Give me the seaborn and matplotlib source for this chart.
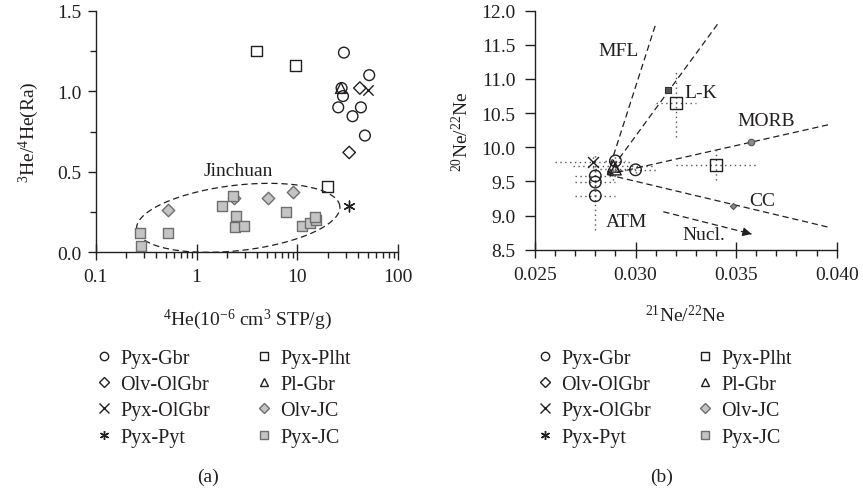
import numpy as np
import matplotlib
matplotlib.use("Agg")
import matplotlib.pyplot as plt
import seaborn as sns
from matplotlib.lines import Line2D
from matplotlib.ticker import MultipleLocator, FixedLocator, FixedFormatter, FormatStrFormatter, NullFormatter

# ---------------- data: panel (a) ----------------
A_PYX_GBR_X = [28.9, 51.5, 27.4, 28.3, 25.4, 42.6, 35.2, 46.7]
A_PYX_GBR_Y = [1.24, 1.10, 1.02, 0.97, 0.90, 0.90, 0.845, 0.725]
A_PYX_PLHT_X = [3.9, 9.5, 20.0]
A_PYX_PLHT_Y = [1.25, 1.16, 0.41]
A_OLV_OLGBR_X = [41.6, 32.6]
A_OLV_OLGBR_Y = [1.02, 0.62]
A_PL_GBR_X = [27.0]
A_PL_GBR_Y = [1.02]
A_PYX_OLGBR_X = [50.4]
A_PYX_OLGBR_Y = [1.01]
A_PYX_PYT_X = [32.6]
A_PYX_PYT_Y = [0.29]
A_OLV_JC_X = [0.52, 2.37, 5.07, 9.08]
A_OLV_JC_Y = [0.265, 0.335, 0.337, 0.376]
A_PYX_JC_X = [0.275, 0.281, 0.518, 1.77, 2.28, 2.46, 2.42, 2.97, 7.64, 11.0, 13.3, 15.2, 14.9]
A_PYX_JC_Y = [0.118, 0.041, 0.118, 0.289, 0.348, 0.224, 0.159, 0.161, 0.252, 0.165, 0.182, 0.200, 0.217]

A_XTICKS = [0.1, 1, 10, 100]
A_XTICKLABELS = ["0.1", "1", "10", "100"]

# Jinchuan ellipse (center in data units, semi-axes in decades / y-units, tilt)
ELL_CENTER_X = 2.59
ELL_CENTER_Y = 0.214
ELL_SEMI_DEC = 1.014
ELL_SEMI_Y = 0.203
ELL_TILT_DEG = 6.5
JINCHUAN_POS = (2.6, 0.51)

# ---------------- data: panel (b) ----------------
B_PYX_GBR_X = [0.0290, 0.0300, 0.0280, 0.0280, 0.0280]
B_PYX_GBR_Y = [9.80, 9.67, 9.58, 9.49, 9.29]
B_PYX_GBR_XERR = [0.0005, 0.0010, 0.0010, 0.0010, 0.0010]
B_PYX_GBR_YERR = [0.10, 0.05, 0.30, 0.20, 0.50]
B_PYX_PLHT_X = [0.0320, 0.0340]
B_PYX_PLHT_Y = [10.65, 9.74]
B_PYX_PLHT_XERR = [0.0010, 0.0020]
B_PYX_PLHT_YERR = [0.50, 0.22]
B_PL_GBR_X = [0.0289, 0.0290]
B_PL_GBR_Y = [9.72, 9.68]
B_PL_GBR_XERR = [0.0020, 0.0010]
B_PL_GBR_YERR = [0.20, 0.10]
B_PYX_OLGBR_X = [0.0279]
B_PYX_OLGBR_Y = [9.79]
B_PYX_OLGBR_XERR = [0.0019]
B_PYX_OLGBR_YERR = [0.10]

REF_NAMES = ["L-K", "MORB", "CC"]
REF_X = [0.03163, 0.03574, 0.03486]
REF_Y = [10.84, 10.07, 9.144]

LINE_ORIGIN = (0.0286, 9.60)
LINE_NAMES = ["MFL", "L-K", "MORB", "CC"]
LINE_END_X = [0.03102, 0.03417, 0.03959, 0.03959]
LINE_END_Y = [11.82, 11.84, 10.33, 8.83]

NUCL_START = (0.03138, 9.056)
NUCL_END = (0.03577, 8.73)

B_LABELS = ["MFL", "L-K", "MORB", "CC", "ATM", "Nucl."]
B_LABEL_X = [0.02918, 0.03325, 0.03652, 0.03630, 0.02956, 0.03339]
B_LABEL_Y = [11.41, 10.80, 10.39, 9.22, 8.91, 8.73]

LEGEND_ORDER = ["Pyx-Gbr", "Olv-OlGbr", "Pyx-OlGbr", "Pyx-Pyt",
                "Pyx-Plht", "Pl-Gbr", "Olv-JC", "Pyx-JC"]

# ---------------- styling ----------------
sns.set_theme(style="ticks")
plt.rcParams["font.family"] = ["Liberation Serif", "DejaVu Serif"]
plt.rcParams["mathtext.fontset"] = "custom"
plt.rcParams["mathtext.rm"] = "Liberation Serif"
plt.rcParams["mathtext.it"] = "Liberation Serif:italic"
plt.rcParams["mathtext.bf"] = "Liberation Serif:bold"

INK = "#231f20"
GRAY_FACE = "#c4c4c4"
GRAY_EDGE = "#6e6e6e"
FS = 14

STYLE = {
    "Pyx-Gbr":   dict(marker="o", s=60, fc="none", ec=INK),
    "Pyx-Plht":  dict(marker="s", s=62, fc="none", ec=INK),
    "Olv-OlGbr": dict(marker="D", s=40, fc="none", ec=INK),
    "Pl-Gbr":    dict(marker="^", s=60, fc="none", ec=INK),
    "Pyx-OlGbr": dict(marker="x", s=55, fc=INK, ec=INK),
    "Pyx-Pyt":   dict(marker=(6, 2, 0), s=60, fc=INK, ec=INK),
    "Olv-JC":    dict(marker="D", s=40, fc=GRAY_FACE, ec=GRAY_EDGE),
    "Pyx-JC":    dict(marker="s", s=62, fc=GRAY_FACE, ec=GRAY_EDGE),
}


def scat(ax, x, y, name, scale=1.0):
    st = STYLE[name]
    kw = dict(x=x, y=y, ax=ax, marker=st["marker"], s=st["s"] * scale,
              linewidth=1.0, legend=False, zorder=4)
    if st["marker"] in ("x", (6, 2, 0)):
        kw["color"] = st["ec"]
    else:
        kw["facecolor"] = st["fc"]
        kw["edgecolor"] = st["ec"]
    sns.scatterplot(**kw)


fig = plt.figure(figsize=(8.63, 4.89), dpi=100)
axA = fig.add_axes([0.1109, 0.482, 0.3506, 0.494])
axB = fig.add_axes([0.6199, 0.4873, 0.3496, 0.4888])

# ---------------- panel (a) ----------------
t = np.linspace(0, 2 * np.pi, 400)
th = np.deg2rad(ELL_TILT_DEG)
px_per_dec, px_per_y = 100.9, 161.0
a_px, b_px = ELL_SEMI_DEC * px_per_dec, ELL_SEMI_Y * px_per_y
u = a_px * np.cos(t) * np.cos(th) - b_px * np.sin(t) * np.sin(th)
v = a_px * np.cos(t) * np.sin(th) + b_px * np.sin(t) * np.cos(th)
ell_x = 10 ** (np.log10(ELL_CENTER_X) + u / px_per_dec)
ell_y = ELL_CENTER_Y + v / px_per_y
axA.plot(ell_x, ell_y, color=INK, lw=0.9, ls=(0, (5, 3)), zorder=2)
axA.text(*JINCHUAN_POS, "Jinchuan", ha="center", va="center", fontsize=FS, color=INK)

scat(axA, A_PYX_GBR_X, A_PYX_GBR_Y, "Pyx-Gbr")
scat(axA, A_PYX_PLHT_X, A_PYX_PLHT_Y, "Pyx-Plht")
scat(axA, A_OLV_OLGBR_X, A_OLV_OLGBR_Y, "Olv-OlGbr")
scat(axA, A_PL_GBR_X, A_PL_GBR_Y, "Pl-Gbr")
scat(axA, A_PYX_OLGBR_X, A_PYX_OLGBR_Y, "Pyx-OlGbr")
scat(axA, A_PYX_PYT_X, A_PYX_PYT_Y, "Pyx-Pyt")
scat(axA, A_OLV_JC_X, A_OLV_JC_Y, "Olv-JC")
scat(axA, A_PYX_JC_X, A_PYX_JC_Y, "Pyx-JC")

axA.set_xscale("log")
axA.set_xlim(0.1, 100)
axA.set_ylim(0, 1.5)
axA.xaxis.set_major_locator(FixedLocator(A_XTICKS))
axA.xaxis.set_major_formatter(FixedFormatter(A_XTICKLABELS))
minors = [m * 10.0 ** e for e in (-1, 0, 1) for m in range(2, 10)]
axA.xaxis.set_minor_locator(FixedLocator(minors))
axA.xaxis.set_minor_formatter(NullFormatter())
axA.yaxis.set_major_locator(MultipleLocator(0.5))
axA.yaxis.set_minor_locator(MultipleLocator(0.25))
axA.yaxis.set_major_formatter(FormatStrFormatter("%.1f"))
axA.set_xlabel(r"$^{4}$He(10$^{-6}$ cm$^{3}$ STP/g)", fontsize=FS, color=INK)
axA.set_ylabel(r"$^{3}$He/$^{4}$He(Ra)", fontsize=FS, color=INK)

# ---------------- panel (b) ----------------
def ebar(ax, x, y, xe, ye):
    eb = ax.errorbar(x, y, xerr=xe, yerr=ye, fmt="none", ecolor="#555555",
                     elinewidth=1.0, capsize=0, zorder=1)
    for c in eb[2]:
        c.set_linestyle((0, (1, 2.5)))

ebar(axB, B_PYX_GBR_X, B_PYX_GBR_Y, B_PYX_GBR_XERR, B_PYX_GBR_YERR)
ebar(axB, B_PYX_PLHT_X, B_PYX_PLHT_Y, B_PYX_PLHT_XERR, B_PYX_PLHT_YERR)
ebar(axB, B_PL_GBR_X, B_PL_GBR_Y, B_PL_GBR_XERR, B_PL_GBR_YERR)
ebar(axB, B_PYX_OLGBR_X, B_PYX_OLGBR_Y, B_PYX_OLGBR_XERR, B_PYX_OLGBR_YERR)

for ex, ey in zip(LINE_END_X, LINE_END_Y):
    axB.plot([LINE_ORIGIN[0], ex], [LINE_ORIGIN[1], ey], color=INK, lw=0.9,
             ls=(0, (5, 3)), zorder=2)

axB.plot([NUCL_START[0], NUCL_END[0]], [NUCL_START[1], NUCL_END[1]], color=INK,
         lw=0.9, ls=(0, (5, 3)), zorder=2)
axB.annotate("", xy=NUCL_END,
             xytext=(NUCL_END[0] - (NUCL_END[0] - NUCL_START[0]) * 0.05,
                     NUCL_END[1] - (NUCL_END[1] - NUCL_START[1]) * 0.05),
             arrowprops=dict(arrowstyle="-|>", color=INK, lw=0.9, mutation_scale=13))

ref_styles = {"L-K": dict(marker="s", s=22, facecolor="#555555", edgecolor="#333333"),
              "MORB": dict(marker="o", s=22, facecolor="#8a8a8a", edgecolor="#555555"),
              "CC": dict(marker="D", s=10, facecolor="#8a8a8a", edgecolor="#555555")}
for nm, rx, ry in zip(REF_NAMES, REF_X, REF_Y):
    sns.scatterplot(x=[rx], y=[ry], ax=axB, linewidth=0.8, legend=False, zorder=5,
                    **ref_styles[nm])

scat(axB, B_PYX_GBR_X, B_PYX_GBR_Y, "Pyx-Gbr", 1.15)
scat(axB, B_PYX_PLHT_X, B_PYX_PLHT_Y, "Pyx-Plht", 1.3)
scat(axB, B_PL_GBR_X, B_PL_GBR_Y, "Pl-Gbr", 1.15)
scat(axB, B_PYX_OLGBR_X, B_PYX_OLGBR_Y, "Pyx-OlGbr", 1.1)

for lab, lx, ly in zip(B_LABELS, B_LABEL_X, B_LABEL_Y):
    axB.text(lx, ly, lab, ha="center", va="center", fontsize=FS, color=INK, zorder=6)

axB.set_xlim(0.025, 0.040)
axB.set_ylim(8.5, 12.0)
axB.xaxis.set_major_locator(MultipleLocator(0.005))
axB.xaxis.set_minor_locator(MultipleLocator(0.001))
axB.xaxis.set_major_formatter(FormatStrFormatter("%.3f"))
axB.yaxis.set_major_locator(MultipleLocator(0.5))
axB.yaxis.set_major_formatter(FormatStrFormatter("%.1f"))
axB.set_xlabel(r"$^{21}$Ne/$^{22}$Ne", fontsize=FS, color=INK)
axB.set_ylabel(r"$^{20}$Ne/$^{22}$Ne", fontsize=FS, color=INK)

for ax in (axA, axB):
    sns.despine(ax=ax)
    for sp in ("left", "bottom"):
        ax.spines[sp].set_color(INK)
        ax.spines[sp].set_linewidth(1.0)
    ax.tick_params(axis="x", which="major", direction="inout", length=11, width=1.0,
                   color=INK, labelsize=FS, labelcolor=INK, pad=6)
    ax.tick_params(axis="x", which="minor", direction="out", length=4, width=1.0, color=INK)
    ax.tick_params(axis="y", which="major", direction="out", length=6, width=1.0,
                   color=INK, labelsize=FS, labelcolor=INK, pad=4)
    ax.tick_params(axis="y", which="minor", direction="out", length=4, width=1.0, color=INK)
axB.tick_params(axis="y", which="major", length=7, pad=7)

axA.xaxis.set_label_coords(0.5, -0.225)
axB.xaxis.set_label_coords(0.5, -0.227)
axA.yaxis.set_label_coords(-0.18, 0.5)
axB.yaxis.set_label_coords(-0.207, 0.5)

# ---------------- legends ----------------
def handle(name):
    st = STYLE[name]
    if st["marker"] in ("x", (6, 2, 0)):
        return Line2D([], [], ls="none", marker=st["marker"], markersize=6.5,
                      color=st["ec"], markeredgewidth=1.0)
    ms = 6.0 if st["marker"] != "D" else 4.6
    return Line2D([], [], ls="none", marker=st["marker"], markersize=ms,
                  markerfacecolor=st["fc"], markeredgecolor=st["ec"], markeredgewidth=1.0)

handles = [handle(n) for n in LEGEND_ORDER]
for x0 in (0.111, 0.622):
    fig.legend(handles, LEGEND_ORDER, loc="upper left", bbox_to_anchor=(x0, 0.285),
               ncol=2, frameon=False, fontsize=FS + 0.5, borderpad=0, borderaxespad=0,
               handlelength=0.8, handletextpad=0.4, columnspacing=2.3, labelspacing=0.36,
               labelcolor=INK)

fig.text(208 / 863, 1 - 477 / 489, "(a)", ha="center", va="center", fontsize=FS, color=INK)
fig.text(662 / 863, 1 - 477 / 489, "(b)", ha="center", va="center", fontsize=FS, color=INK)

fig.savefig("out.png", dpi=100)
